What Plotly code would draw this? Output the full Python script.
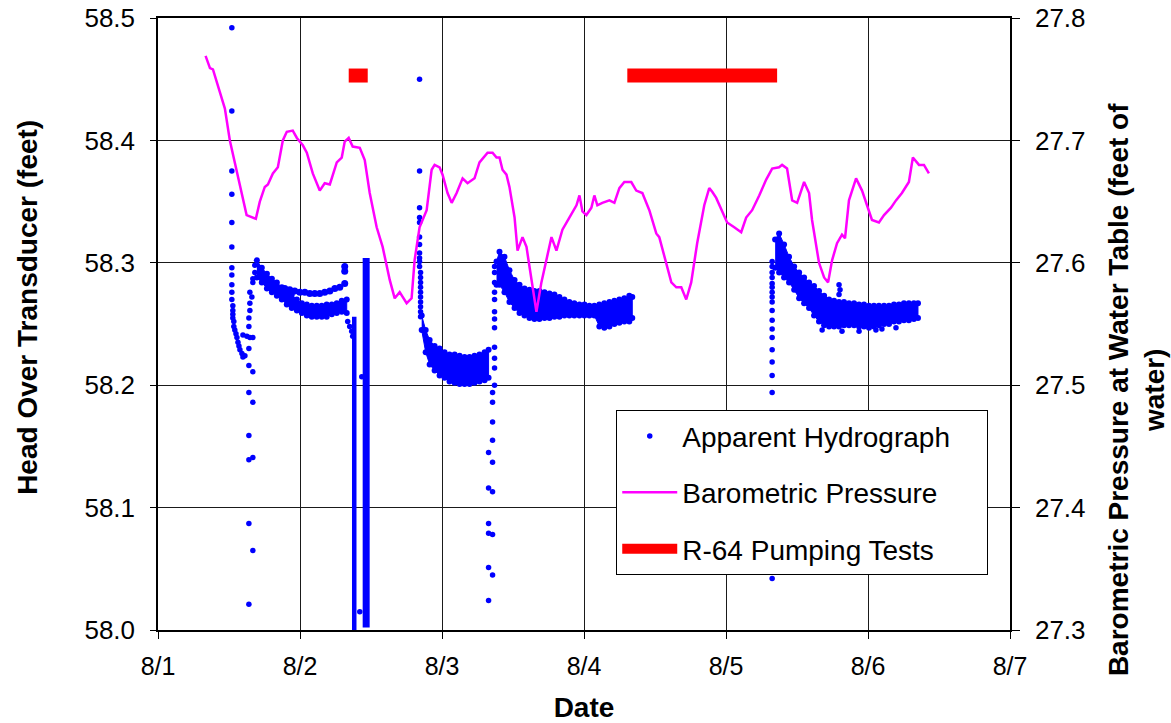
import plotly.graph_objects as go

# ---------------- tick labels ----------------
x_tick_days = [1, 2, 3, 4, 5, 6, 7]
x_tick_labels = ["8/1", "8/2", "8/3", "8/4", "8/5", "8/6", "8/7"]
head_ticks = [58.0, 58.1, 58.2, 58.3, 58.4, 58.5]
baro_ticks = [27.3, 27.4, 27.5, 27.6, 27.7, 27.8]

# ---------------- barometric pressure (feet of water, right axis) ----------------
baro_day = [1.335, 1.366, 1.387, 1.471, 1.506, 1.624, 1.689, 1.717, 1.752, 1.774,
            1.809, 1.844, 1.879, 1.907, 1.949, 1.978, 2.020, 2.048, 2.090, 2.139,
            2.174, 2.210, 2.259, 2.294, 2.315, 2.343, 2.371, 2.421, 2.456, 2.491,
            2.540, 2.582, 2.632, 2.667, 2.702, 2.751, 2.786, 2.807, 2.842, 2.892,
            2.927, 2.948, 2.983, 3.004, 3.039, 3.068, 3.103, 3.145, 3.180, 3.229,
            3.264, 3.321, 3.356, 3.384, 3.405, 3.426, 3.454, 3.475, 3.511, 3.532,
            3.567, 3.595, 3.616, 3.651, 3.665, 3.700, 3.736, 3.771, 3.806, 3.848,
            3.897, 3.947, 3.968, 3.989, 4.017, 4.052, 4.073, 4.094, 4.129, 4.179,
            4.214, 4.249, 4.284, 4.333, 4.368, 4.411, 4.460, 4.509, 4.530, 4.580,
            4.615, 4.650, 4.685, 4.720, 4.755, 4.797, 4.847, 4.882, 4.903, 4.931,
            4.973, 5.008, 5.058, 5.107, 5.142, 5.184, 5.234, 5.283, 5.325, 5.374,
            5.395, 5.430, 5.466, 5.501, 5.550, 5.585, 5.606, 5.655, 5.691, 5.719,
            5.747, 5.782, 5.817, 5.838, 5.866, 5.916, 5.958, 5.993, 6.028, 6.077,
            6.113, 6.162, 6.197, 6.239, 6.288, 6.316, 6.359, 6.394, 6.429]
baro_val = [27.769, 27.759, 27.758, 27.726, 27.700, 27.639, 27.636, 27.650, 27.662, 27.664,
            27.673, 27.678, 27.700, 27.707, 27.708, 27.702, 27.696, 27.690, 27.673, 27.659,
            27.665, 27.664, 27.682, 27.686, 27.699, 27.702, 27.695, 27.694, 27.684, 27.657,
            27.629, 27.613, 27.586, 27.571, 27.576, 27.567, 27.571, 27.602, 27.629, 27.643,
            27.676, 27.680, 27.678, 27.672, 27.657, 27.649, 27.657, 27.669, 27.665, 27.669,
            27.682, 27.690, 27.690, 27.686, 27.686, 27.676, 27.672, 27.662, 27.637, 27.610,
            27.621, 27.613, 27.597, 27.570, 27.560, 27.584, 27.602, 27.621, 27.610, 27.627,
            27.637, 27.647, 27.655, 27.642, 27.639, 27.645, 27.655, 27.647, 27.649, 27.651,
            27.649, 27.661, 27.666, 27.666, 27.659, 27.657, 27.643, 27.624, 27.621, 27.600,
            27.584, 27.580, 27.580, 27.570, 27.584, 27.616, 27.647, 27.661, 27.658, 27.653,
            27.642, 27.633, 27.629, 27.625, 27.637, 27.643, 27.655, 27.668, 27.677, 27.678,
            27.680, 27.677, 27.651, 27.649, 27.666, 27.657, 27.635, 27.600, 27.588, 27.584,
            27.602, 27.616, 27.623, 27.620, 27.651, 27.669, 27.659, 27.647, 27.635, 27.633,
            27.639, 27.645, 27.651, 27.657, 27.666, 27.686, 27.680, 27.680, 27.673]

# ---------------- R-64 pumping tests ----------------
pump_start = [2.343, 4.305]
pump_end = [2.477, 5.360]
pump_level = 58.453

# ---------------- apparent hydrograph: isolated readings ----------------
ev1_day = [1.520, 1.520, 1.520, 1.520, 1.520, 1.520, 1.520, 1.520, 1.520, 1.520,
           1.520, 1.527, 1.527, 1.527, 1.527, 1.534, 1.534, 1.541, 1.549, 1.556,
           1.563, 1.570, 1.577, 1.591, 1.598, 1.612, 1.598, 1.626, 1.647, 1.668, 1.640]
ev1_val = [58.492, 58.424, 58.375, 58.356, 58.333, 58.313, 58.296, 58.290, 58.282, 58.276,
           58.270, 58.265, 58.261, 58.258, 58.255, 58.252, 58.248, 58.245, 58.242, 58.239,
           58.235, 58.232, 58.229, 58.226, 58.223, 58.224, 58.241, 58.240, 58.239, 58.239, 58.230]

ev2_day = [1.640, 1.668, 1.640, 1.668, 1.640, 1.640, 1.668, 1.640, 1.668, 1.640,
           1.647, 1.647, 1.661, 1.647, 1.668, 1.668, 1.682, 1.682, 1.640, 1.640,
           2.336, 2.350, 2.364, 2.371, 2.421, 2.435]
ev2_val = [58.216, 58.211, 58.194, 58.186, 58.159, 58.139, 58.141, 58.087, 58.065, 58.021,
           58.261, 58.267, 58.272, 58.276, 58.284, 58.287, 58.292, 58.298, 58.255, 58.248,
           58.252, 58.248, 58.244, 58.240, 58.015, 58.207]

ev3_day = [2.842, 2.842, 2.842, 2.842, 2.842, 2.842, 2.842, 2.842, 2.842, 2.842, 2.842,
           2.849, 2.849, 2.849, 2.849, 2.849, 2.849, 2.849, 2.849, 2.849, 2.849]
ev3_val = [58.450, 58.375, 58.345, 58.337, 58.333, 58.321, 58.315, 58.308, 58.304, 58.301, 58.297,
           58.292, 58.288, 58.284, 58.280, 58.276, 58.272, 58.268, 58.264, 58.260, 58.256]

ev4_day = [3.370, 3.370, 3.370, 3.370, 3.370, 3.370, 3.370, 3.370, 3.370, 3.370, 3.370, 3.370,
           3.356, 3.356, 3.356, 3.356, 3.328, 3.356, 3.328, 3.356, 3.328, 3.328, 3.356, 3.328,
           3.356, 3.328]
ev4_val = [58.200, 58.214, 58.222, 58.231, 58.247, 58.254, 58.260, 58.270, 58.276, 58.284, 58.292, 58.297,
           58.194, 58.186, 58.170, 58.155, 58.145, 58.137, 58.116, 58.113, 58.087, 58.079, 58.078, 58.051,
           58.045, 58.024]

ev5_day = [5.325, 5.325, 5.325, 5.325, 5.325, 5.325, 5.325, 5.325, 5.325, 5.325,
           5.325, 5.325, 5.325, 5.325, 5.325, 5.325, 5.325, 5.325,
           5.796, 5.803, 5.796, 5.677, 5.817, 6.056, 6.098, 6.197, 5.937]
ev5_val = [58.301, 58.297, 58.292, 58.288, 58.283, 58.280, 58.276, 58.272, 58.268, 58.261,
           58.253, 58.246, 58.239, 58.229, 58.219, 58.208, 58.194, 58.042,
           58.282, 58.278, 58.274, 58.245, 58.244, 58.245, 58.246, 58.247, 58.244]

# upper scatter row above the first recovery band
upper1_day = [1.893, 1.928, 1.963, 1.999, 2.034, 2.069, 2.104, 2.139, 2.174, 2.210,
              2.245, 2.280, 2.315, 2.315, 2.315]
upper1_val = [58.279, 58.278, 58.277, 58.276, 58.276, 58.275, 58.275, 58.275, 58.276, 58.277,
              58.279, 58.280, 58.283, 58.297, 58.293]

# ---------------- apparent hydrograph: dense recording bands (upper / lower envelopes) ----------------
band1_day = [1.696, 1.731, 1.767, 1.802, 1.837, 1.872, 1.907, 1.942, 1.978, 2.013,
             2.048, 2.083, 2.118, 2.153, 2.188, 2.224, 2.259, 2.294, 2.329]
band1_top = [58.302, 58.296, 58.291, 58.287, 58.284, 58.280, 58.277, 58.274, 58.270, 58.267,
             58.266, 58.265, 58.265, 58.265, 58.266, 58.266, 58.267, 58.269, 58.270]
band1_bot = [58.288, 58.284, 58.279, 58.276, 58.273, 58.270, 58.266, 58.263, 58.261, 58.259,
             58.257, 58.256, 58.256, 58.256, 58.256, 58.258, 58.259, 58.260, 58.259]

band2_day = [2.857, 2.885, 2.913, 2.948, 2.983, 3.018, 3.053, 3.089, 3.124, 3.159,
             3.194, 3.229, 3.264, 3.300, 3.328]
band2_top = [58.257, 58.245, 58.237, 58.232, 58.230, 58.227, 58.225, 58.225, 58.224, 58.223,
             58.223, 58.224, 58.225, 58.227, 58.229]
band2_bot = [58.245, 58.227, 58.217, 58.212, 58.208, 58.206, 58.203, 58.202, 58.201, 58.201,
             58.201, 58.202, 58.203, 58.204, 58.206]

band3_day = [3.384, 3.405, 3.440, 3.475, 3.511, 3.546, 3.581, 3.616, 3.651, 3.686,
             3.722, 3.757, 3.792, 3.827, 3.862, 3.897, 3.932, 3.968, 4.003, 4.038,
             4.073, 4.108, 4.143, 4.179, 4.214, 4.249, 4.284, 4.319, 4.340]
band3_top = [58.301, 58.309, 58.305, 58.294, 58.286, 58.282, 58.279, 58.278, 58.277, 58.277,
             58.276, 58.275, 58.274, 58.272, 58.270, 58.268, 58.267, 58.266, 58.266, 58.265,
             58.265, 58.266, 58.267, 58.268, 58.269, 58.270, 58.271, 58.273, 58.272]
band3_bot = [58.282, 58.282, 58.276, 58.268, 58.263, 58.259, 58.257, 58.255, 58.254, 58.254,
             58.255, 58.255, 58.256, 58.256, 58.257, 58.257, 58.257, 58.257, 58.257, 58.257,
             58.257, 58.248, 58.247, 58.248, 58.250, 58.251, 58.252, 58.252, 58.255]

band4_day = [5.346, 5.374, 5.409, 5.444, 5.480, 5.515, 5.550, 5.585, 5.620, 5.655,
             5.691, 5.726, 5.761, 5.796, 5.831, 5.866, 5.902, 5.937, 5.972, 6.007,
             6.042, 6.077, 6.113, 6.148, 6.183, 6.218, 6.253, 6.288, 6.323, 6.352]
band4_top = [58.319, 58.324, 58.315, 58.305, 58.297, 58.292, 58.288, 58.284, 58.281, 58.277,
             58.273, 58.270, 58.269, 58.268, 58.268, 58.267, 58.267, 58.266, 58.266, 58.265,
             58.265, 58.265, 58.265, 58.265, 58.266, 58.266, 58.267, 58.267, 58.267, 58.267]
band4_bot = [58.296, 58.292, 58.288, 58.284, 58.278, 58.271, 58.267, 58.263, 58.257, 58.252,
             58.249, 58.248, 58.248, 58.248, 58.249, 58.249, 58.249, 58.248, 58.248, 58.247,
             58.248, 58.249, 58.250, 58.250, 58.252, 58.252, 58.253, 58.253, 58.254, 58.255]

# drawdown streaks during the first pumping test (continuous readings)
drawdown_day = [2.382, 2.466]
drawdown_low = [58.000, 58.002]
drawdown_high = [58.256, 58.304]

# ---------------- figure ----------------
FONT = "Arial, 'Liberation Sans', Helvetica, sans-serif"
BLUE = "#0000FF"
MAGENTA = "#FF00FF"
RED = "#FF0000"
NBSP = "\u00a0"

fig = go.Figure()

hydro_day = ev1_day + ev2_day + ev3_day + ev4_day + ev5_day
hydro_val = ev1_val + ev2_val + ev3_val + ev4_val + ev5_val
fig.add_trace(go.Scatter(
    x=hydro_day, y=hydro_val, mode="markers",
    marker=dict(color=BLUE, size=5.5, line=dict(width=0)),
    name="Apparent Hydrograph" + NBSP * 4, legendgroup="g1", hoverinfo="skip"))

fig.add_trace(go.Scatter(
    x=upper1_day, y=upper1_val, mode="markers",
    marker=dict(color=BLUE, size=7, line=dict(width=0)),
    showlegend=False, legendgroup="g1", hoverinfo="skip"))

for bd, bt, bb in [(band1_day, band1_top, band1_bot),
                   (band2_day, band2_top, band2_bot),
                   (band3_day, band3_top, band3_bot),
                   (band4_day, band4_top, band4_bot)]:
    fig.add_trace(go.Scatter(
        x=bd + bd[::-1], y=bt + bb[::-1],
        mode="lines+markers", fill="toself", fillcolor=BLUE,
        line=dict(color=BLUE, width=1),
        marker=dict(color=BLUE, size=6, line=dict(width=0)),
        showlegend=False, legendgroup="g1", hoverinfo="skip"))

for d, lo, hi, w in zip(drawdown_day, drawdown_low, drawdown_high, [4.5, 7]):
    fig.add_trace(go.Scatter(
        x=[d, d], y=[lo, hi], mode="lines",
        line=dict(color=BLUE, width=w),
        showlegend=False, legendgroup="g1", hoverinfo="skip"))

fig.add_trace(go.Scatter(
    x=baro_day, y=baro_val, mode="lines", yaxis="y2",
    line=dict(color=MAGENTA, width=2.5),
    name="Barometric Pressure", legendgroup="g2", hoverinfo="skip"))

pump_x, pump_y = [], []
for s, e in zip(pump_start, pump_end):
    pump_x += [s, e, None]
    pump_y += [pump_level, pump_level, None]
fig.add_trace(go.Scatter(
    x=pump_x, y=pump_y, mode="lines",
    line=dict(color=RED, width=14),
    name="R-64 Pumping Tests", legendgroup="g3", hoverinfo="skip"))

axis_common = dict(
    showline=True, linecolor="black", linewidth=1.5,
    ticks="outside", tickcolor="black", tickwidth=1.2,
    zeroline=False, automargin=False, ticklabeloverflow="allow")

fig.update_layout(
    template="none",
    width=1171, height=723,
    margin=dict(l=158, r=161, t=18, b=93),
    paper_bgcolor="white", plot_bgcolor="white",
    font=dict(family=FONT, color="black", size=24),
    xaxis=dict(range=[1, 7], tickvals=x_tick_days, ticktext=x_tick_labels,
               showgrid=True, gridcolor="#1a1a1a", gridwidth=1, ticklen=7,
               ticklabelstandoff=6, mirror=True,
               tickfont=dict(size=25, color="black", family=FONT),
               title=dict(text="<b>Date</b>", font=dict(size=28, family=FONT), standoff=26),
               **axis_common),
    yaxis=dict(range=[58.0, 58.5], tickvals=head_ticks, tickformat=".1f",
               showgrid=True, gridcolor="#1a1a1a", gridwidth=1, ticklen=6,
               ticklabelstandoff=10,
               tickfont=dict(size=26, color="black", family=FONT),
               **axis_common),
    yaxis2=dict(range=[27.3, 27.8], tickvals=baro_ticks, tickformat=".1f",
                overlaying="y", side="right", showgrid=False, ticklen=8,
                ticklabelstandoff=10,
                tickfont=dict(size=26, color="black", family=FONT),
                **axis_common),
    legend=dict(x=0.5376, y=0.3595, xanchor="left", yanchor="top",
                bgcolor="white", bordercolor="black", borderwidth=1.2,
                font=dict(size=28, color="black", family=FONT), tracegroupgap=17, itemwidth=55),
    showlegend=True,
    annotations=[
        dict(text="<b>Head Over Transducer (feet)</b>", textangle=-90,
             xref="paper", yref="paper", x=-0.1526, y=0.528,
             xanchor="center", yanchor="middle", showarrow=False,
             font=dict(size=28, family=FONT, color="black")),
        dict(text="<b>Barometric Pressure at Water Table (feet of<br>water)</b>", textangle=-90,
             xref="paper", yref="paper", x=1.1479, y=0.392,
             xanchor="center", yanchor="middle", showarrow=False,
             font=dict(size=28, family=FONT, color="black")),
    ],
)

# remove the default 8px page margin so the 1171x723 figure fills the window exactly
fig.write_html("out.html", config={"displayModeBar": False},
               post_script="document.body.style.margin='0px';")
